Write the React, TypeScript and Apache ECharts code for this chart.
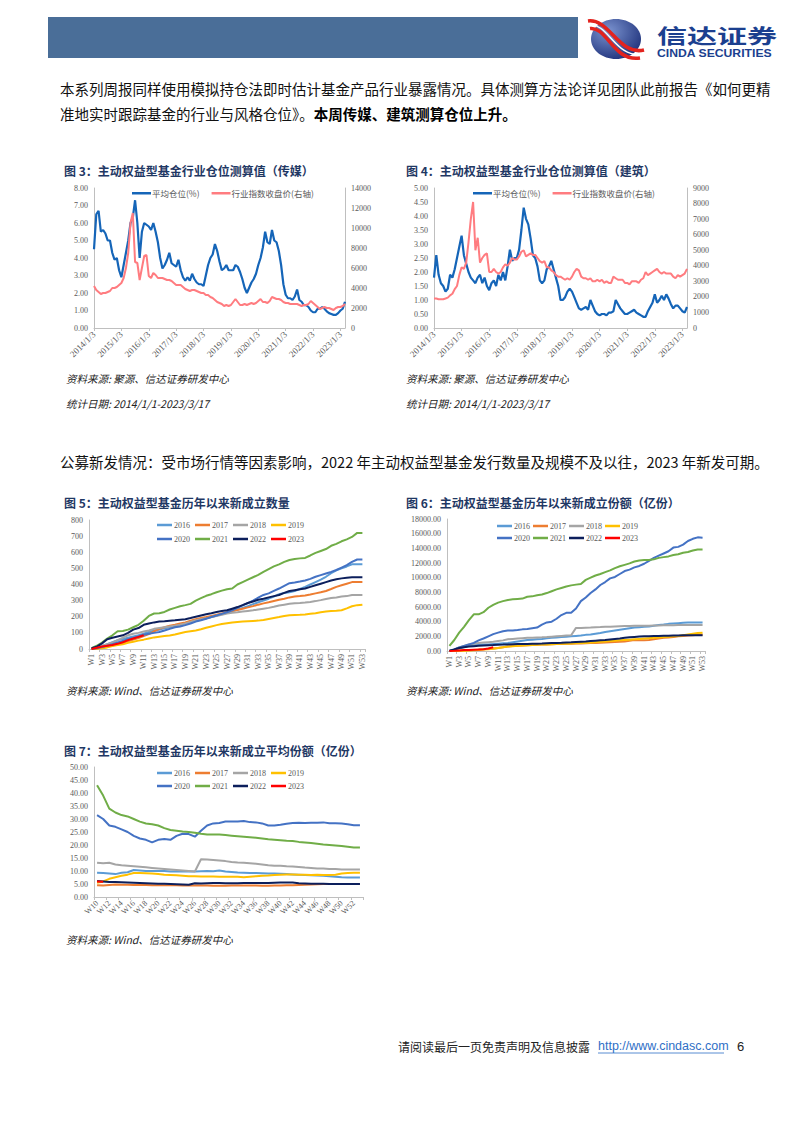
import React, { useEffect, useRef } from 'react';
import * as echarts from 'echarts';

// ---------- categories ----------
const YEARS = ['2014', '2015', '2016', '2017', '2018', '2019', '2020', '2021', '2022', '2023'];
const MONTHLY: string[] = [];
YEARS.forEach((y) => {
  for (let m = 1; m <= 12; m++) if (MONTHLY.length < 111) MONTHLY.push(`${y}/${m}/3`);
});
const WEEKS: string[] = [];
for (let i = 1; i <= 53; i++) WEEKS.push('W' + i);
const WEEKS7 = WEEKS.slice(9);

// ---------- Figure 3 (传媒) ----------
const media_pos = [
  4.5, 6.5, 6.7, 5.5, 5.6, 5.4, 5.0, 5.0, 4.3, 3.9, 4.0, 3.3,
  2.9, 3.6, 4.3, 5.0, 6.0, 6.3, 7.3, 6.0, 4.0, 5.5, 6.0, 5.9,
  5.8, 5.6, 6.0, 5.5, 4.9, 4.0, 3.4, 3.6, 3.9, 4.3, 3.7, 3.6,
  3.5, 3.9, 3.3, 2.9, 2.7, 2.9, 2.7, 3.1, 2.8, 2.6, 2.5, 2.5,
  2.4, 3.0, 3.6, 4.0, 4.2, 4.8, 4.4, 3.8, 3.3, 3.4, 3.6, 3.3,
  3.3, 3.3, 3.6, 3.5, 3.2, 2.8, 2.3, 2.0, 2.3, 2.6, 2.8, 3.1,
  3.6, 4.0, 4.6, 5.5, 4.9, 4.8, 5.6, 5.0, 4.9, 4.4, 3.6, 2.5,
  1.9, 1.7, 1.7, 1.6, 1.8, 2.2, 1.6, 1.5, 1.3, 1.3, 1.2, 1.0,
  0.9, 0.9, 1.1, 1.1, 1.2, 1.1, 0.95, 0.85, 0.8, 0.75, 0.75, 0.85,
  1.0, 1.1, 1.5,
];
const media_idx = [
  4200, 3800, 3600, 3400, 3500, 3500, 3600, 3700, 4000, 4000, 4100, 4300,
  4500, 5000, 6000, 7500, 10500, 11500, 6600, 6500, 4800, 6000, 7200, 7300,
  5200, 5000, 5500, 5300, 5000, 5000, 5000, 4900, 4800, 4800, 4700, 4500,
  4300, 4300, 4300, 4100, 3900, 3800, 3700, 3800, 3800, 3700, 3600, 3500,
  3500, 3300, 3300, 3100, 3000, 2800, 2600, 2500, 2400, 2200, 2300, 2200,
  2300, 2600, 2900, 2600, 2300, 2300, 2400, 2300, 2400, 2500, 2400, 2500,
  2700, 2900, 2600, 2600, 2500, 2700, 3100, 3000, 2900, 2900, 2800, 2600,
  2500, 2500, 2400, 2400, 2400, 2400, 2300, 2200, 2300, 2300, 2400, 2700,
  2500, 2300, 2100, 1900, 2000, 2100, 2000, 2000, 1900, 1800, 2000, 2100,
  2100, 2200, 2400,
];

// ---------- Figure 4 (建筑) ----------
const build_pos = [
  1.8, 2.6, 1.9, 1.6, 1.5, 1.3, 1.4, 1.9, 1.8, 2.1, 2.5, 2.9,
  3.3, 2.6, 2.3, 2.0, 1.8, 1.7, 1.6, 1.8, 1.9, 1.6, 1.8, 1.5,
  1.35, 1.6, 1.7, 1.5, 1.9, 1.7, 2.0, 1.7, 2.2, 2.8, 2.4, 2.5,
  2.5, 2.8, 3.5, 4.3, 3.9, 3.7, 3.2, 2.6, 2.5, 2.2, 1.7, 1.6,
  1.7, 2.1, 2.2, 2.4, 2.1, 1.8, 1.5, 1.0, 1.0, 1.1, 1.3, 1.4,
  1.3, 1.1, 0.9, 0.7, 0.65, 0.7, 0.75, 0.65, 1.0, 0.8, 0.6, 0.5,
  0.45, 0.5, 0.5, 0.45, 0.55, 0.55, 0.6, 1.0, 0.85, 0.7, 0.6, 0.5,
  0.5, 0.55, 0.6, 0.65, 0.55, 0.5, 0.45, 0.4, 0.4, 0.6, 0.75, 0.9,
  1.2, 0.9, 1.0, 1.15, 1.0, 1.2, 1.05, 0.85, 0.7, 0.8, 0.8, 0.7,
  0.6, 0.55, 0.75,
];
const build_idx = [
  1900, 1900, 1850, 1850, 1850, 1900, 1950, 2100, 2200, 2500, 2700, 3400,
  3900, 3800, 4200, 5500, 7000, 8100, 5000, 5800, 4200, 4500, 4700, 4800,
  3600, 3600, 3800, 3600, 3500, 3600, 3900, 4100, 4000, 4200, 4500, 4400,
  4400, 4600, 4900, 5000, 4600, 4700, 4800, 4700, 4700, 4500, 4300, 4200,
  4300, 3900, 3900, 3700, 3600, 3400, 3300, 3300, 3200, 3100, 3200, 3100,
  3300, 3600, 3800, 3700, 3300, 3200, 3200, 3100, 3200, 3000, 3000, 3100,
  3000, 3100, 2900, 3000, 2900, 2900, 3300, 3200, 3100, 3100, 3100, 2900,
  2900, 2800, 3000, 3000, 3000, 2900, 3100, 3200, 3600, 3400, 3500, 3600,
  3700, 3800, 3600, 3500, 3600, 3500, 3500, 3500, 3300, 3200, 3400, 3300,
  3400, 3500, 3800,
];

// ---------- Figures 5-7 ----------
const YEAR_NAMES = ['2016', '2017', '2018', '2019', '2020', '2021', '2022', '2023'];
const YEAR_COLORS = ['#5B9BD5', '#ED7D31', '#A5A5A5', '#FFC000', '#4472C4', '#70AD47', '#0C1F5C', '#FF0000'];

const count2016 = [0, 8, 18, 30, 42, 55, 62, 70, 78, 85, 95, 105, 115, 120, 128, 135, 140, 148, 155, 165, 175, 182, 190, 198, 208, 215, 225, 235, 245, 255, 265, 278, 290, 300, 312, 325, 340, 348, 352, 360, 372, 385, 400, 415, 430, 448, 470, 488, 500, 512, 525, 525, 525];
const count2017 = [0, 3, 8, 14, 22, 30, 38, 48, 58, 68, 80, 92, 110, 125, 135, 145, 150, 158, 165, 175, 185, 192, 198, 205, 212, 220, 228, 235, 242, 250, 258, 266, 275, 283, 290, 298, 305, 312, 320, 325, 328, 332, 338, 345, 352, 360, 372, 385, 395, 405, 415, 415, 415];
const count2018 = [0, 10, 20, 30, 40, 55, 70, 85, 95, 100, 108, 115, 125, 130, 135, 140, 145, 150, 158, 168, 178, 185, 190, 198, 205, 212, 220, 225, 228, 232, 236, 240, 245, 250, 255, 262, 270, 275, 280, 283, 285, 288, 292, 297, 303, 310, 316, 320, 325, 328, 335, 335, 335];
const count2019 = [0, 2, 5, 10, 18, 25, 30, 38, 45, 52, 58, 65, 72, 76, 80, 84, 90, 98, 105, 110, 115, 122, 132, 140, 148, 155, 160, 165, 168, 170, 172, 174, 176, 180, 186, 192, 198, 205, 210, 211, 212, 214, 218, 222, 228, 232, 235, 237, 240, 252, 265, 272, 275];
const count2020 = [0, 5, 12, 20, 30, 40, 50, 60, 68, 78, 88, 95, 100, 105, 115, 125, 135, 140, 148, 158, 170, 178, 188, 198, 208, 218, 228, 240, 255, 270, 285, 300, 318, 335, 345, 360, 375, 392, 408, 412, 418, 425, 435, 448, 458, 468, 478, 490, 505, 520, 540, 555, 555];
const count2021 = [5, 20, 40, 65, 85, 110, 112, 120, 135, 150, 175, 205, 220, 222, 230, 245, 255, 265, 272, 280, 300, 315, 330, 340, 352, 362, 370, 375, 400, 415, 430, 445, 460, 478, 495, 512, 525, 540, 552, 558, 562, 565, 580, 596, 608, 620, 640, 652, 668, 680, 695, 720, 720];
const count2022 = [5, 15, 35, 60, 70, 78, 85, 100, 120, 130, 150, 158, 165, 170, 172, 175, 178, 182, 185, 192, 200, 208, 215, 222, 230, 235, 240, 250, 260, 272, 285, 295, 305, 312, 320, 328, 335, 348, 360, 365, 370, 375, 385, 395, 405, 415, 425, 432, 438, 442, 445, 445, 445];
const count2023 = [0, 8, 15, 20, 25, 32, 42, 55, 65, 75, 85];

const share2016 = [0, 150, 350, 550, 700, 800, 850, 880, 900, 950, 1000, 1050, 1100, 1200, 1300, 1400, 1500, 1550, 1600, 1650, 1750, 1800, 1850, 1900, 1950, 2000, 2050, 2100, 2200, 2250, 2350, 2450, 2600, 2700, 2800, 2900, 3000, 3100, 3200, 3250, 3300, 3350, 3450, 3550, 3600, 3700, 3750, 3800, 3850, 3880, 3900, 3900, 3900];
const share2017 = [0, 20, 50, 80, 100, 150, 200, 250, 300, 350, 420, 500, 600, 680, 720, 760, 800, 830, 860, 880, 900, 920, 940, 960, 980, 1000, 1020, 1030, 1050, 1080, 1100, 1120, 1150, 1180, 1220, 1260, 1300, 1400, 1500, 1480, 1450, 1500, 1600, 1700, 1800, 1850, 1900, 2000, 2050, 2100, 2150, 2200, 2200];
const share2018 = [0, 200, 500, 700, 900, 1000, 1100, 1150, 1200, 1250, 1350, 1450, 1600, 1650, 1700, 1750, 1800, 1820, 1850, 1870, 1900, 1950, 2000, 2050, 2100, 2150, 3150, 3150, 3180, 3200, 3230, 3260, 3300, 3320, 3350, 3380, 3400, 3420, 3430, 3440, 3450, 3460, 3470, 3480, 3500, 3510, 3520, 3530, 3540, 3550, 3550, 3550, 3550];
const share2019 = [0, 10, 30, 50, 80, 100, 150, 200, 250, 300, 400, 500, 600, 650, 700, 750, 800, 830, 860, 880, 900, 920, 950, 980, 1000, 1030, 1060, 1080, 1100, 1150, 1200, 1250, 1300, 1350, 1400, 1450, 1500, 1550, 1600, 1650, 1700, 1750, 1800, 1850, 1900, 1950, 2000, 2050, 2150, 2250, 2350, 2450, 2500];
const share2020 = [0, 200, 500, 700, 900, 1100, 1450, 1700, 2000, 2300, 2500, 2700, 2800, 2800, 2850, 2950, 3000, 3100, 3200, 3600, 3900, 4000, 4400, 4900, 5200, 5200, 5800, 6800, 7300, 7900, 8400, 9000, 9400, 9900, 10100, 10500, 10900, 11100, 11400, 11600, 11900, 12300, 12700, 13000, 13300, 13600, 14100, 14200, 14500, 15000, 15300, 15500, 15450];
const share2021 = [700, 1500, 2500, 3300, 4200, 5000, 5000, 5300, 5900, 6300, 6600, 6800, 6950, 7050, 7100, 7150, 7400, 7450, 7600, 7700, 7900, 8150, 8400, 8600, 8800, 8950, 9050, 9150, 9700, 10000, 10300, 10500, 10750, 11000, 11300, 11550, 11750, 11950, 12200, 12350, 12400, 12400, 12500, 12700, 12800, 12900, 13100, 13200, 13400, 13500, 13700, 13850, 13850];
const share2022 = [50, 200, 400, 500, 600, 650, 700, 750, 800, 820, 850, 870, 900, 920, 940, 950, 960, 980, 1000, 1020, 1050, 1080, 1100, 1120, 1150, 1180, 1220, 1260, 1300, 1350, 1400, 1450, 1500, 1580, 1650, 1720, 1800, 1860, 1920, 1980, 2000, 2020, 2040, 2050, 2070, 2090, 2110, 2130, 2150, 2150, 2150, 2150, 2150];
const share2023 = [0, 30, 80, 120, 150, 180, 200, 250, 350, 500];

const avg2016 = [9.3, 9.2, 9.0, 8.8, 9.3, 9.5, 10.4, 10.2, 10.0, 10.0, 10.0, 10.0, 9.8, 9.8, 9.8, 9.8, 9.8, 9.9, 10.0, 9.9, 10.2, 9.8, 9.6, 9.4, 9.3, 9.2, 9.2, 9.1, 9.0, 9.0, 8.9, 8.8, 8.7, 8.6, 8.5, 8.4, 8.3, 8.2, 8.0, 7.8, 7.6, 7.5, 7.5, 7.5];
const avg2017 = [4.5, 4.4, 4.6, 4.8, 4.7, 4.7, 4.6, 4.6, 4.6, 4.5, 4.5, 4.5, 4.5, 4.5, 4.4, 4.4, 4.4, 4.4, 4.4, 4.3, 4.3, 4.3, 4.4, 4.4, 4.4, 4.4, 4.4, 4.3, 4.3, 4.4, 4.4, 4.5, 4.5, 4.6, 4.7, 4.8, 4.9, 5.0, 5.0, 5.0, 5.0, 5.0, 5.0, 5.0];
const avg2018 = [13.2, 13.0, 13.2, 12.5, 12.2, 12.0, 11.8, 11.6, 11.4, 11.2, 11.0, 10.8, 10.6, 10.4, 10.2, 10.0, 9.8, 14.5, 14.4, 14.2, 14.0, 13.8, 13.5, 13.3, 13.2, 13.0, 12.8, 12.5, 12.2, 12.0, 12.0, 11.8, 11.7, 11.5, 11.3, 11.2, 11.0, 11.0, 10.8, 10.8, 10.6, 10.6, 10.6, 10.6];
const avg2019 = [5.5, 6.0, 7.0, 7.6, 8.2, 8.6, 9.2, 9.2, 9.1, 9.0, 8.8, 8.6, 8.5, 8.4, 8.2, 8.0, 8.0, 7.9, 7.9, 7.9, 7.8, 7.8, 7.8, 7.8, 7.6, 7.8, 8.0, 8.2, 8.3, 8.5, 8.6, 8.7, 8.7, 8.6, 8.6, 8.5, 8.6, 8.5, 8.5, 8.6, 9.0, 9.2, 9.3, 9.3];
const avg2020 = [31.5, 30, 27.5, 27, 26, 25, 23.5, 22.5, 22, 21, 22, 22.3, 22, 23.5, 24.3, 24.2, 23.2, 25.5, 27.5, 28.3, 28.5, 29, 29, 29, 29.2, 28.8, 28.7, 28.3, 27.5, 27.5, 27.8, 28.2, 28.5, 28.6, 28.5, 28.6, 28.6, 28.7, 28.4, 28.4, 28.3, 28, 27.6, 27.6];
const avg2021 = [43, 39, 34, 32.5, 31.5, 31, 30, 29, 28.3, 28, 27.5, 26.5, 25.8, 25.5, 25.2, 25, 24.7, 24.3, 24, 24, 24, 23.8, 23.6, 23.4, 23.2, 23, 22.8, 22.5, 22.2, 22, 21.8, 21.6, 21.5, 21.2, 21, 20.8, 20.5, 20.2, 20, 19.8, 19.6, 19.3, 19, 19];
const avg2022 = [6.2, 6.0, 5.8, 5.8, 5.7, 5.6, 5.5, 5.4, 5.3, 5.2, 5.1, 5.1, 5.0, 4.9, 4.8, 4.7, 5.3, 5.2, 5.3, 5.4, 5.4, 5.3, 5.3, 5.3, 5.4, 5.4, 5.4, 5.4, 5.4, 5.5, 5.6, 5.6, 5.6, 5.3, 5.2, 5.1, 5.1, 5.1, 5.0, 5.0, 5.0, 5.0, 5.0, 5.0];
const avg2023 = [6.0, 5.9];

const COUNT = [count2016, count2017, count2018, count2019, count2020, count2021, count2022, count2023];
const SHARE = [share2016, share2017, share2018, share2019, share2020, share2021, share2022, share2023];
const AVG = [avg2016, avg2017, avg2018, avg2019, avg2020, avg2021, avg2022, avg2023];

// ---------- styling ----------
const SERIF = '"Liberation Serif", "Times New Roman", serif';
const CJK = '"Noto Sans CJK SC", sans-serif';
const AXIS_GRAY = '#BFBFBF';
const LABEL_GRAY = '#595959';
const TITLE_BLUE = '#1F3864';
const POS_BLUE = '#1565B8';
const IDX_PINK = '#FF7C80';

function valueAxis(gridIndex: number, min: number, max: number, interval: number, dec: number, position: 'left' | 'right' = 'left') {
  return {
    type: 'value', gridIndex, min, max, interval, position,
    axisLine: { show: true, lineStyle: { color: AXIS_GRAY } },
    axisTick: { show: false },
    splitLine: { show: false },
    axisLabel: { fontSize: 8, color: LABEL_GRAY, fontFamily: SERIF, margin: 6, formatter: (v: number) => v.toFixed(dec) },
  };
}

function catAxis(gridIndex: number, data: string[], interval: number, rotate: number, boundaryGap: boolean, fontSize = 8) {
  return {
    type: 'category', gridIndex, data, boundaryGap,
    axisLine: { show: true, lineStyle: { color: AXIS_GRAY } },
    axisTick: { show: true, interval, length: 3, lineStyle: { color: AXIS_GRAY } },
    axisLabel: { interval, rotate, fontSize, color: LABEL_GRAY, fontFamily: SERIF, margin: 5 },
  };
}

function legend(left: number, top: number, data: string[], gap = 5, w = 15) {
  return {
    left, top, orient: 'horizontal', icon: 'rect', itemWidth: w, itemHeight: 2.5, itemGap: gap,
    selectedMode: false, data,
    textStyle: { fontSize: 8, color: LABEL_GRAY, fontFamily: SERIF, padding: [0, 0, 0, -3] },
  };
}

function yearSeries(arrs: number[][], xAxisIndex: number, yAxisIndex: number) {
  return arrs.map((d, i) => ({
    name: YEAR_NAMES[i], type: 'line', xAxisIndex, yAxisIndex, data: d,
    showSymbol: false, symbol: 'none', lineStyle: { width: 2, color: YEAR_COLORS[i] },
    itemStyle: { color: YEAR_COLORS[i] },
  }));
}

function txt(x: number, y: number, text: string, font: string, fill = '#222', extra: any = {}) {
  return { type: 'text', x, y, silent: true, style: { text, font, fill, verticalAlign: 'middle', ...extra } };
}

export default function App() {
  const ref = useRef<HTMLDivElement>(null);
  useEffect(() => {
    const chart = echarts.init(ref.current!, undefined, { renderer: 'svg' });
    const option: any = {
      animation: false,
      grid: [
        { left: 94, top: 188, width: 251, height: 140 },
        { left: 434, top: 188, width: 253, height: 140 },
        { left: 89, top: 520, width: 276, height: 129 },
        { left: 447, top: 519, width: 258, height: 132 },
        { left: 94, top: 767, width: 269, height: 130 },
      ],
      xAxis: [
        catAxis(0, MONTHLY, 11, 45, false, 9),
        catAxis(1, MONTHLY, 11, 45, false, 9),
        catAxis(2, WEEKS, 1, 90, true),
        catAxis(3, WEEKS, 1, 90, true),
        catAxis(4, WEEKS7, 1, 45, true),
      ],
      yAxis: [
        valueAxis(0, 0, 8, 1, 2),
        valueAxis(0, 0, 14000, 2000, 0, 'right'),
        valueAxis(1, 0, 5, 0.5, 2),
        valueAxis(1, 0, 9000, 1000, 0, 'right'),
        valueAxis(2, 0, 800, 100, 0),
        valueAxis(3, 0, 18000, 2000, 2),
        valueAxis(4, 0, 50, 5, 2),
      ],
      legend: [
        { ...legend(127, 184, ['平均仓位(%)', '行业指数收盘价(右轴)'], 12, 19), textStyle: { fontSize: 8.5, color: LABEL_GRAY, fontFamily: CJK, padding: [0, 0, 0, -4] } },
        { ...legend(468, 184, ['平均仓位(%)', '行业指数收盘价(右轴)'], 12, 19), textStyle: { fontSize: 8.5, color: LABEL_GRAY, fontFamily: CJK, padding: [0, 0, 0, -4] } },
        legend(152, 516, YEAR_NAMES.slice(0, 4)),
        legend(152, 530, YEAR_NAMES.slice(4)),
        legend(492, 517, YEAR_NAMES.slice(0, 4), 3),
        legend(492, 529, YEAR_NAMES.slice(4), 3),
        legend(152, 764, YEAR_NAMES.slice(0, 4)),
        legend(152, 777, YEAR_NAMES.slice(4)),
      ],
      series: [
        { name: '平均仓位(%)', type: 'line', xAxisIndex: 0, yAxisIndex: 0, data: media_pos, showSymbol: false, symbol: 'none', lineStyle: { width: 2.2, color: POS_BLUE }, itemStyle: { color: POS_BLUE } },
        { name: '行业指数收盘价(右轴)', type: 'line', xAxisIndex: 0, yAxisIndex: 1, data: media_idx, showSymbol: false, symbol: 'none', lineStyle: { width: 2, color: IDX_PINK }, itemStyle: { color: IDX_PINK } },
        { name: '平均仓位(%)', type: 'line', xAxisIndex: 1, yAxisIndex: 2, data: build_pos, showSymbol: false, symbol: 'none', lineStyle: { width: 2.2, color: POS_BLUE }, itemStyle: { color: POS_BLUE } },
        { name: '行业指数收盘价(右轴)', type: 'line', xAxisIndex: 1, yAxisIndex: 3, data: build_idx, showSymbol: false, symbol: 'none', lineStyle: { width: 2, color: IDX_PINK }, itemStyle: { color: IDX_PINK } },
        ...yearSeries(COUNT, 2, 4),
        ...yearSeries(SHARE, 3, 5),
        ...yearSeries(AVG, 4, 6),
      ],
      graphic: [
        { type: 'rect', silent: true, shape: { x: 48, y: 17, width: 530, height: 41 }, style: { fill: '#4A6E98' } },
        {
          type: 'ellipse', silent: true, shape: { cx: 616, cy: 39, rx: 25, ry: 20 },
          style: { fill: new echarts.graphic.RadialGradient(0.35, 0.3, 0.8, [{ offset: 0, color: '#7B93CF' }, { offset: 1, color: '#1B2E78' }]) },
        },
        { type: 'bezierCurve', silent: true, shape: { x1: 588, y1: 21, cpx1: 609, cpy1: 18, cpx2: 619, cpy2: 56, x2: 644, y2: 50 }, style: { stroke: '#E3231E', lineWidth: 3.5, fill: null } },
        { type: 'bezierCurve', silent: true, shape: { x1: 589, y1: 25, cpx1: 608, cpy1: 22, cpx2: 616, cpy2: 59, x2: 642, y2: 54 }, style: { stroke: '#FFFFFF', lineWidth: 1.5, fill: null } },
        { type: 'bezierCurve', silent: true, shape: { x1: 590, y1: 28.5, cpx1: 607, cpy1: 26, cpx2: 613, cpy2: 62, x2: 640, y2: 58 }, style: { stroke: '#E3231E', lineWidth: 3.5, fill: null } },
        { type: 'group', x: 657, y: 35, scaleX: 1.5, silent: true, children: [txt(0, 0, '信达证券', 'bold 20px "Noto Sans CJK SC"', '#1B3F8F')] },
        { type: 'group', x: 657, y: 53, scaleX: 1.22, silent: true, children: [txt(0, 0, 'CINDA SECURITIES', 'bold 10px "Liberation Sans"', '#1B3F8F')] },

        txt(60, 88, '本系列周报同样使用模拟持仓法即时估计基金产品行业暴露情况。具体测算方法论详见团队此前报告《如何更精', `14.5px ${CJK}`, '#111'),
        {
          type: 'text', x: 60, y: 113, silent: true,
          style: {
            text: '{n|准地实时跟踪基金的行业与风格仓位》。}{b|本周传媒、建筑测算仓位上升。}',
            verticalAlign: 'middle',
            rich: {
              n: { font: `14.5px ${CJK}`, fill: '#111' },
              b: { font: `bold 14.5px ${CJK}`, fill: '#000' },
            },
          },
        },

        txt(64, 170, '图 3：主动权益型基金行业仓位测算值（传媒）', `bold 12px ${CJK}`, TITLE_BLUE),
        txt(406, 170, '图 4：主动权益型基金行业仓位测算值（建筑）', `bold 12px ${CJK}`, TITLE_BLUE),
        txt(66, 378, '资料来源: 聚源、信达证券研发中心', `italic 10.5px ${CJK}`, '#222'),
        txt(66, 403, '统计日期: 2014/1/1-2023/3/17', `italic 10.5px ${CJK}`, '#222'),
        txt(406, 378, '资料来源: 聚源、信达证券研发中心', `italic 10.5px ${CJK}`, '#222'),
        txt(406, 403, '统计日期: 2014/1/1-2023/3/17', `italic 10.5px ${CJK}`, '#222'),

        txt(60, 461, '公募新发情况：受市场行情等因素影响，2022 年主动权益型基金发行数量及规模不及以往，2023 年新发可期。', `14.5px ${CJK}`, '#111'),

        txt(64, 502, '图 5：主动权益型基金历年以来新成立数量', `bold 12px ${CJK}`, TITLE_BLUE),
        txt(406, 502, '图 6：主动权益型基金历年以来新成立份额（亿份）', `bold 12px ${CJK}`, TITLE_BLUE),
        txt(66, 690, '资料来源: Wind、信达证券研发中心', `italic 10.5px ${CJK}`, '#222'),
        txt(406, 690, '资料来源: Wind、信达证券研发中心', `italic 10.5px ${CJK}`, '#222'),

        txt(64, 750, '图 7：主动权益型基金历年以来新成立平均份额（亿份）', `bold 12px ${CJK}`, TITLE_BLUE),
        txt(66, 939, '资料来源: Wind、信达证券研发中心', `italic 10.5px ${CJK}`, '#222'),

        txt(398, 1046, '请阅读最后一页免责声明及信息披露', `12px ${CJK}`, '#222'),
        txt(598, 1046, 'http://www.cindasc.com', '12.5px "Liberation Sans"', '#2F6FC6'),
        { type: 'line', silent: true, shape: { x1: 598, y1: 1053, x2: 724, y2: 1053 }, style: { stroke: '#2F6FC6', lineWidth: 0.8 } },
        txt(737, 1046, '6', '13px "Liberation Sans"', '#222'),
      ],
    };
    chart.setOption(option);
    return () => chart.dispose();
  }, []);
  return <div ref={ref} style={{ position: 'absolute', left: 0, top: 0, width: 802, height: 1133 }} />;
}
